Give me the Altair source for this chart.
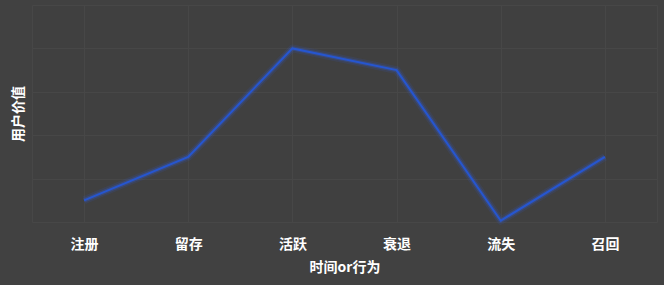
import altair as alt
import pandas as pd

# User lifecycle stages and the value curve across them
stages = ["注册", "留存", "活跃", "衰退", "流失", "召回"]
values = [0.5, 1.5, 4.0, 3.5, 0.03, 1.5]

df = pd.DataFrame({"stage": stages, "value": values})

FONT = "Noto Sans CJK SC"
GRID = "#474747"

x_enc = alt.X(
    "stage:N",
    sort=stages,
    scale=alt.Scale(paddingInner=0, paddingOuter=0),
    axis=alt.Axis(
        title="时间or行为",
        labelAngle=0,
        labelColor="#ffffff",
        labelFont=FONT,
        labelFontSize=14,
        labelFontWeight="bold",
        labelPadding=15,
        titleColor="#ffffff",
        titleFont=FONT,
        titleFontSize=14,
        titleFontWeight="bold",
        titlePadding=9,
        ticks=False,
        domain=False,
        grid=True,
        gridColor=GRID,
        gridWidth=1,
        bandPosition=0,
    ),
)
y_enc = alt.Y(
    "value:Q",
    scale=alt.Scale(domain=[0, 5], nice=False, zero=True),
    axis=alt.Axis(
        title="用户价值",
        labels=False,
        ticks=False,
        domain=False,
        grid=True,
        gridColor=GRID,
        gridWidth=1,
        values=[0, 1, 2, 3, 4, 5],
        titleColor="#ffffff",
        titleFont=FONT,
        titleFontSize=14,
        titleFontWeight="bold",
        titlePadding=7,
    ),
)

base = alt.Chart(df).encode(x=x_enc, y=y_enc)

# soft glow under the main stroke
glow_outer = base.mark_line(color="#2f66ff", strokeWidth=8, opacity=0.10, strokeJoin="round")
glow_inner = base.mark_line(color="#2f66ff", strokeWidth=4.5, opacity=0.22, strokeJoin="round")
line = base.mark_line(color="#2656d0", strokeWidth=2, strokeJoin="miter")

chart = (
    alt.layer(glow_outer, glow_inner, line)
    .properties(
        width=625,
        height=217,
        background="#414141",
        padding={"left": 32, "top": 5, "right": 7, "bottom": 63},
        autosize=alt.AutoSizeParams(type="none"),
    )
    .configure_view(stroke=GRID, strokeWidth=1, fill="#404040")
)

chart.save("out.html", embed_options={"renderer": "svg", "actions": False})
